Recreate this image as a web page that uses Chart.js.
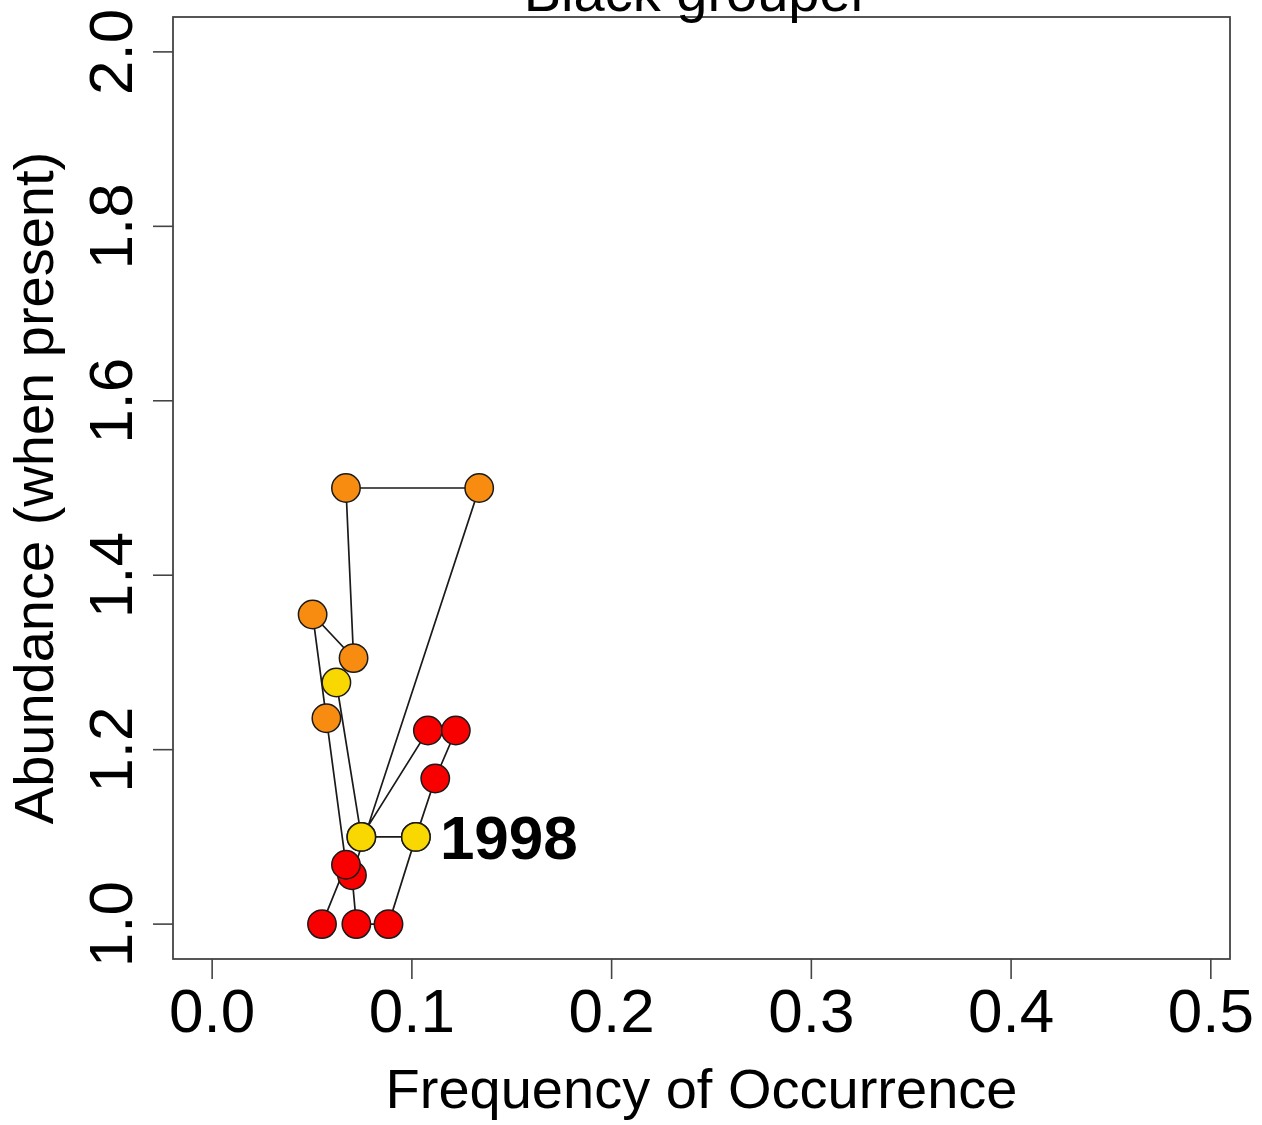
<!DOCTYPE html>
<html>
<head>
<meta charset="utf-8">
<title>Black grouper</title>
<script src="https://cdn.jsdelivr.net/npm/chart.js@4"></script>
<style>
  html, body { margin: 0; padding: 0; background: #fff; }
  #wrap { width: 1262px; height: 1125px; }
</style>
</head>
<body>
<div id="wrap"><canvas id="chart" width="1262" height="1125"></canvas></div>
<script>
// yearly survey values, in path order
const years = [1998, 1999, 2000, 2001, 2002, 2003, 2004, 2005, 2006,
               2007, 2008, 2009, 2010, 2011, 2012, 2013, 2014, 2015];
const frequency = [0.102, 0.0747, 0.0622, 0.0747, 0.108, 0.122, 0.1117, 0.102, 0.0883,
                   0.0722, 0.070, 0.1337, 0.067, 0.0708, 0.0503, 0.0572, 0.067, 0.055];
const abundance = [1.1, 1.1, 1.277, 1.1, 1.222, 1.222, 1.167, 1.1, 1.0,
                   1.0, 1.056, 1.5, 1.5, 1.305, 1.355, 1.236, 1.068, 1.0];
const period = ['y', 'y', 'y', 'y', 'r', 'r', 'r', 'y', 'r',
                'r', 'r', 'o', 'o', 'o', 'o', 'o', 'r', 'r'];

const xTicks = [0.0, 0.1, 0.2, 0.3, 0.4, 0.5];
const yTicks = [1.0, 1.2, 1.4, 1.6, 1.8, 2.0];
const labelYear = 1998;

const periodColors = { r: '#F80000', o: '#F88C10', y: '#F8D800' };
const font = '"Liberation Sans", Arial, Helvetica, sans-serif';

// R-style box, ticks, labels and titles
const rAxes = {
  id: 'rAxes',
  afterDraw(chart) {
    const { ctx, chartArea: a, scales: { x, y } } = chart;
    ctx.save();
    ctx.strokeStyle = '#444';
    ctx.lineWidth = 1.8;
    ctx.strokeRect(a.left, a.top, a.right - a.left, a.bottom - a.top);

    ctx.lineWidth = 1.6;
    ctx.fillStyle = '#000';
    ctx.font = '62px ' + font;
    ctx.textAlign = 'center';
    ctx.textBaseline = 'alphabetic';
    xTicks.forEach(v => {
      const px = x.getPixelForValue(v);
      ctx.beginPath();
      ctx.moveTo(px, a.bottom);
      ctx.lineTo(px, a.bottom + 20);
      ctx.stroke();
      ctx.fillText(v.toFixed(1), px, 1032);
    });
    yTicks.forEach(v => {
      const py = y.getPixelForValue(v);
      ctx.beginPath();
      ctx.moveTo(a.left, py);
      ctx.lineTo(a.left - 20, py);
      ctx.stroke();
      ctx.save();
      ctx.translate(132, py);
      ctx.rotate(-Math.PI / 2);
      ctx.fillText(v.toFixed(1), 0, 0);
      ctx.restore();
    });

    // axis titles
    ctx.font = '56px ' + font;
    ctx.fillText('Frequency of Occurrence', (a.left + a.right) / 2, 1108);
    ctx.save();
    ctx.translate(53, (a.top + a.bottom) / 2);
    ctx.rotate(-Math.PI / 2);
    ctx.fillText('Abundance (when present)', 0, 0);
    ctx.restore();

    // main title, cut off by the top edge
    ctx.font = '56px ' + font;
    ctx.fillText('Black grouper', (a.left + a.right) / 2 - 5, 11);

    // year label next to the first point
    const i = years.indexOf(labelYear);
    ctx.font = 'bold 62px ' + font;
    ctx.textAlign = 'left';
    ctx.fillText(String(labelYear),
      x.getPixelForValue(frequency[i]) + 24,
      y.getPixelForValue(abundance[i]) + 22);
    ctx.restore();
  }
};

new Chart(document.getElementById('chart'), {
  type: 'scatter',
  data: {
    datasets: [{
      label: 'Black grouper',
      data: frequency.map((f, i) => ({ x: f, y: abundance[i] })),
      showLine: true,
      borderColor: '#1a1a1a',
      borderWidth: 1.7,
      pointRadius: 14.2,
      pointHoverRadius: 14.2,
      pointBorderWidth: 1.5,
      pointBorderColor: '#1a1a1a',
      pointBackgroundColor: period.map(p => periodColors[p])
    }]
  },
  options: {
    responsive: false,
    animation: false,
    devicePixelRatio: 1,
    layout: { padding: { left: 173, right: 32, top: 17, bottom: 166 } },
    plugins: { legend: { display: false }, tooltip: { enabled: false }, title: { display: false } },
    scales: {
      x: { type: 'linear', display: false, min: -0.0196, max: 0.5096 },
      y: { type: 'linear', display: false, min: 0.96, max: 2.04 }
    }
  },
  plugins: [rAxes]
});
</script>
</body>
</html>
